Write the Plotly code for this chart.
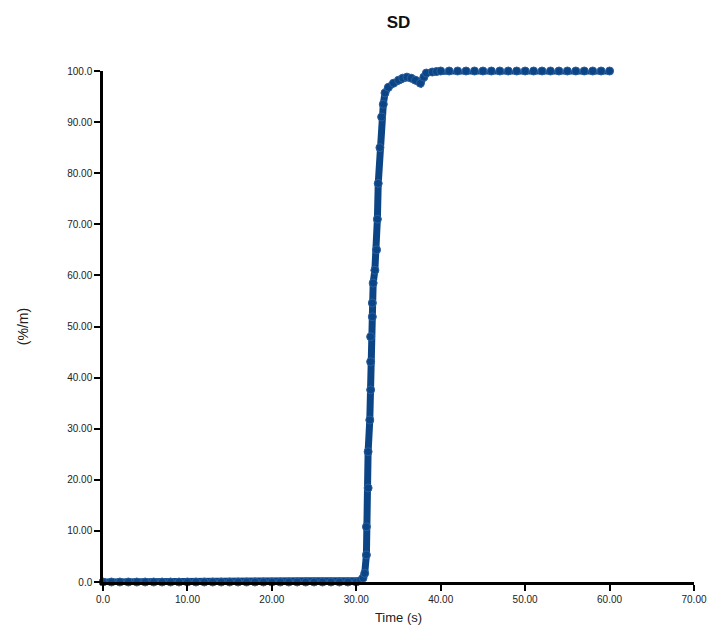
import plotly.graph_objects as go

# Time (s) and SD (%/m)
time_s = [0, 1, 2, 3, 4, 5, 6, 7, 8, 9, 10, 11, 12, 13, 14, 15, 16, 17, 18, 19,
          20, 21, 22, 23, 24, 25, 26, 27, 28, 29, 30, 30.5, 30.8, 31.0, 31.2,
          31.2, 31.4, 31.4, 31.6, 31.7, 31.7, 31.7, 31.9, 31.9, 32.0, 32.2,
          32.4, 32.5, 32.6, 32.8, 33.0, 33.2, 33.4, 33.8, 34.4, 35.0, 35.5,
          36.0, 36.5, 37.0, 37.6, 38.0, 38.3, 39.0, 39.5, 40, 41, 42, 43, 44,
          45, 46, 47, 48, 49, 50, 51, 52, 53, 54, 55, 56, 57, 58, 59, 60]
sd_pct = [0, 0, 0, 0, 0, 0, 0, 0, 0, 0, 0, 0, 0, 0, 0, 0, 0, 0, 0, 0,
          0, 0, 0, 0, 0, 0, 0, 0, 0, 0, 0, 0.3, 0.8, 1.7, 5.3,
          10.8, 18.4, 25.5, 31.7, 37.6, 43.1, 48.0, 51.9, 54.6, 58.5, 61.0,
          65.0, 71.0, 78.0, 85.0, 91.0, 93.5, 95.7, 96.8, 97.6, 98.2, 98.6,
          98.8, 98.6, 98.2, 97.6, 98.8, 99.6, 99.8, 99.9, 100, 100, 100, 100, 100,
          100, 100, 100, 100, 100, 100, 100, 100, 100, 100, 100, 100, 100, 100, 100, 100]

x_ticks = [0, 10, 20, 30, 40, 50, 60, 70]
x_tick_text = ["0.0", "10.00", "20.00", "30.00", "40.00", "50.00", "60.00", "70.00"]
y_ticks = [0, 10, 20, 30, 40, 50, 60, 70, 80, 90, 100]
y_tick_text = ["0.0", "10.00", "20.00", "30.00", "40.00", "50.00", "60.00",
               "70.00", "80.00", "90.00", "100.0"]

color = "#0b4586"

fig = go.Figure()
fig.add_trace(go.Scatter(
    x=time_s, y=sd_pct, mode="lines+markers",
    line=dict(color=color, width=7),
    marker=dict(symbol="circle", size=8, color=color,
                line=dict(color="#2a5f9e", width=1)),
    cliponaxis=False, showlegend=False,
))

font_family = "Liberation Sans, Arial, sans-serif"
axis_font = dict(family=font_family, size=10, color="#222")

fig.update_layout(
    width=708, height=629,
    paper_bgcolor="white", plot_bgcolor="white",
    margin=dict(l=95, r=22, t=63, b=55),
    title=dict(text="<b>SD</b>", x=0.5, xref="paper", xanchor="center",
               y=0.978, yref="container", yanchor="middle",
               font=dict(family=font_family, size=17, color="#111")),
    xaxis=dict(range=[0, 70], tickvals=x_ticks, ticktext=x_tick_text,
               showgrid=False, zeroline=False, showline=True, linecolor="black",
               linewidth=2.5, ticks="outside", ticklen=6, tickwidth=2, tickcolor="black",
               tickfont=axis_font, automargin=False,
               title=dict(text="Time (s)", standoff=10,
                          font=dict(family=font_family, size=13, color="#222"))),
    yaxis=dict(range=[0, 100], tickvals=y_ticks, ticktext=y_tick_text,
               showgrid=False, zeroline=False, showline=True, linecolor="black",
               linewidth=2.5, ticks="outside", ticklen=6, tickwidth=2, tickcolor="black",
               tickfont=axis_font, automargin=False,
               title=dict(text="(%/m)", standoff=36,
                          font=dict(family=font_family, size=14, color="#222"))),
)

fig.write_html("out.html")
